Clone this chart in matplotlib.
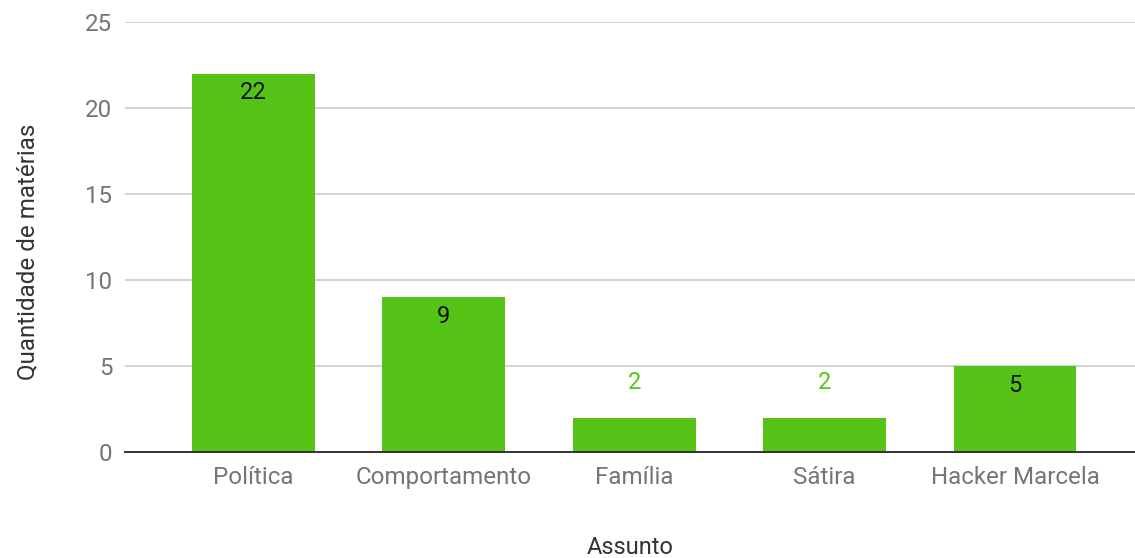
import matplotlib
matplotlib.use("Agg")
import matplotlib.pyplot as plt

plt.rcParams['font.family'] = ['Roboto', 'DejaVu Sans']

categories = ['Política', 'Comportamento', 'Família', 'Sátira', 'Hacker Marcela']
values = [22, 9, 2, 2, 5]
y_ticks = [0, 5, 10, 15, 20, 25]

bar_color = '#56c416'
grid_color = '#cccccc'
tick_color = '#757575'
label_color = '#333333'

fig = plt.figure(figsize=(11.35, 5.58), dpi=100)
ax = fig.add_axes([0.110, 0.190, 0.890, 0.7706])

x = list(range(len(categories)))
bars = ax.bar(x, values, width=0.645, color=bar_color, zorder=2)

for xi, v in zip(x, values):
    if v >= 4:
        ax.text(xi, v - 0.45, str(v), ha='center', va='top', fontsize=17, color='#111111')
    else:
        ax.text(xi, v + 1.35, str(v), ha='center', va='bottom', fontsize=17, color=bar_color)

ax.set_xlim(-0.674, 4.63)
ax.set_ylim(0, 25)
ax.set_yticks(y_ticks)
ax.set_xticks(x)
ax.set_xticklabels(categories)
ax.tick_params(axis='both', length=0, labelsize=17.4, labelcolor=tick_color)
ax.tick_params(axis='x', pad=10)
ax.tick_params(axis='y', pad=9)
ax.yaxis.grid(True, color=grid_color, linewidth=1.2, zorder=0)
ax.set_axisbelow(True)
for side in ['top', 'right', 'left']:
    ax.spines[side].set_visible(False)
ax.spines['bottom'].set_color('#333333')
ax.spines['bottom'].set_linewidth(1.4)
ax.spines['bottom'].set_zorder(3)

ax.set_xlabel('Assunto', fontsize=17, color=label_color, labelpad=34)
ax.set_ylabel('Quantidade de matérias', fontsize=17.4, color=label_color)
ax.yaxis.set_label_coords(-0.085, 0.465)

fig.savefig('out.png', dpi=100)
